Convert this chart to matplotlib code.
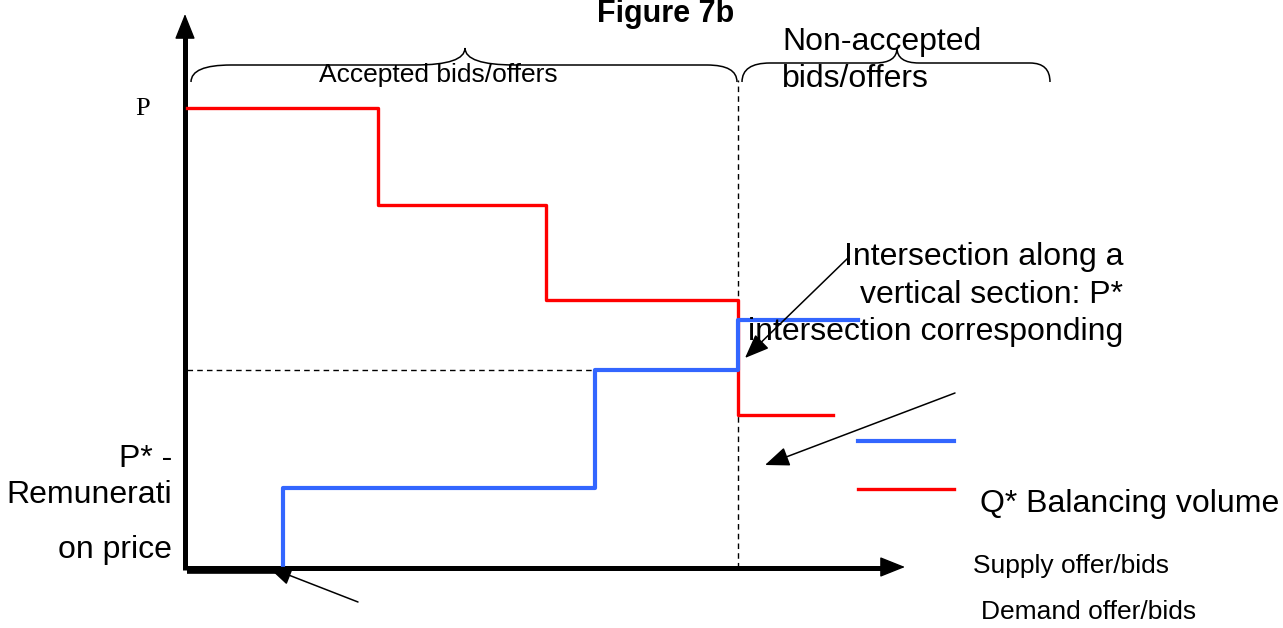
import matplotlib
matplotlib.use("Agg")
import matplotlib.pyplot as plt
from matplotlib.path import Path
from matplotlib.patches import PathPatch

# Data in diagram units: quantity q (right), price p (up); origin at the axes corner
demand_q = [0, 191, 359, 551, 646]
demand_p = [460, 363, 268, 153, 153]
supply_q = [96, 96, 408, 551, 671]
supply_p = [0, 80, 198, 248, 248]
p_star = 198
q_star = 551

RED = "#ff0000"
BLUE = "#3366ff"
SANS = ["Liberation Sans", "DejaVu Sans"]
SERIF = ["Liberation Serif", "DejaVu Serif"]

# canvas: 1283 x 628 px, origin of the diagram at pixel (187, 568)
fig = plt.figure(figsize=(12.83, 6.28), dpi=100)
ax = fig.add_axes([0, 0, 1, 1])
ax.set_xlim(-187, 1096)
ax.set_ylim(-60, 568)
ax.axis("off")


def brace(ax, x0, x1, xt, ye, ym, ytip, r0, r1, rt):
    verts = [(x0, ye), (x0, ym), (x0 + r0, ym),
             (xt - rt, ym),
             (xt, ym), (xt, ytip),
             (xt, ym), (xt + rt, ym),
             (x1 - r1, ym),
             (x1, ym), (x1, ye)]
    codes = [Path.MOVETO, Path.CURVE3, Path.CURVE3,
             Path.LINETO,
             Path.CURVE3, Path.CURVE3,
             Path.CURVE3, Path.CURVE3,
             Path.LINETO,
             Path.CURVE3, Path.CURVE3]
    ax.add_patch(PathPatch(Path(verts, codes), fill=False, lw=1.1, color="black"))


def arrow(ax, start, end, lw=1.1, scale=20):
    ax.annotate("", xy=end, xytext=start,
                arrowprops=dict(arrowstyle="-|>,head_length=0.75,head_width=0.3",
                                lw=lw, color="black", mutation_scale=scale,
                                shrinkA=0, shrinkB=0))


# axes
ax.plot([-2, -2], [-2, 535], color="black", lw=3.6, solid_capstyle="butt")
ax.plot([0, 705], [0, 0], color="black", lw=3.6, solid_capstyle="butt")
ax.plot([0, 93], [-2, -2], color="black", lw=5.5, solid_capstyle="butt")
ax.annotate("", xy=(-2, 554), xytext=(-2, 530),
            arrowprops=dict(arrowstyle="-|>,head_length=1.0,head_width=0.4",
                            lw=1, color="black", mutation_scale=16,
                            shrinkA=0, shrinkB=0))
ax.annotate("", xy=(718, 1), xytext=(700, 1),
            arrowprops=dict(arrowstyle="-|>,head_length=1.0,head_width=0.4",
                            lw=1, color="black", mutation_scale=16,
                            shrinkA=0, shrinkB=0))

# dashed guides
ax.plot([0, q_star], [p_star, p_star], color="black", lw=1, dashes=(4, 3))
ax.plot([q_star, q_star], [0, 488], color="black", lw=1, dashes=(4, 3))

# curves
ax.plot(demand_q, demand_p, drawstyle="steps-post", color=RED, lw=2.4)
ax.plot(supply_q, supply_p, drawstyle="steps-post", color=BLUE, lw=3.0)

# legend keys
ax.plot([671, 767], [127, 127], color=BLUE, lw=3.0)
ax.plot([671, 767], [79, 79], color=RED, lw=2.4)

# braces
brace(ax, 4, 550, 278, 486, 503, 520, 40, 30, 50)
brace(ax, 555, 863, 710, 486, 505, 520, 28, 20, 22)

# pointer arrows
arrow(ax, (171, -34), (81, 1))
arrow(ax, (661, 310), (558, 210))
arrow(ax, (768, 175), (578, 103))

# texts
ax.text(479, 546, "Figure 7b", fontsize=22, fontweight="bold", family=SANS,
        ha="center", va="baseline")
ax.text(132, 486, "Accepted bids/offers", fontsize=19, family=SANS,
        ha="left", va="baseline")
ax.text(595, 518, "Non-accepted", fontsize=23, family=SANS, ha="left", va="baseline")
ax.text(595, 481, "bids/offers", fontsize=23, family=SANS, ha="left", va="baseline")
ax.text(-52, 453, "P", fontsize=19, family=SERIF, ha="left", va="baseline")
ax.text(-15, 101, "P* -", fontsize=23, family=SANS, ha="right", va="baseline")
ax.text(-15, 65, "Remunerati", fontsize=23, family=SANS, ha="right", va="baseline")
ax.text(-15, 10, "on price", fontsize=23, family=SANS, ha="right", va="baseline")
ax.text(936, 303, "Intersection along a", fontsize=23, family=SANS,
        ha="right", va="baseline")
ax.text(936, 265, "vertical section: P*", fontsize=23, family=SANS,
        ha="right", va="baseline")
ax.text(936, 228, "intersection corresponding", fontsize=23, family=SANS,
        ha="right", va="baseline")
ax.text(793, 56, "Q* Balancing volume", fontsize=23, family=SANS,
        ha="left", va="baseline")
ax.text(786, -5, "Supply offer/bids", fontsize=19, family=SANS,
        ha="left", va="baseline")
ax.text(794, -51, "Demand offer/bids", fontsize=19, family=SANS,
        ha="left", va="baseline")

fig.savefig("out.png", dpi=100)
